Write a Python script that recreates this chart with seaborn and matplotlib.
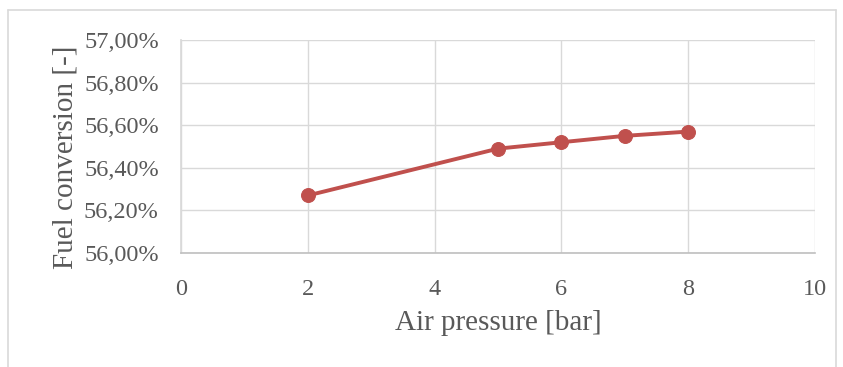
import matplotlib
matplotlib.use("Agg")
import matplotlib.pyplot as plt
import seaborn as sns
import pandas as pd
from matplotlib.ticker import FuncFormatter
from matplotlib.lines import Line2D

air_pressure = [2, 5, 6, 7, 8]
fuel_conversion = [56.27, 56.49, 56.52, 56.55, 56.57]
x_ticks = [0, 2, 4, 6, 8, 10]
y_ticks = [56.0, 56.2, 56.4, 56.6, 56.8, 57.0]

sns.set_theme(style="white")
plt.rcParams['font.family'] = ['Liberation Serif', 'DejaVu Serif']

df = pd.DataFrame({"p": air_pressure, "fc": fuel_conversion})

fig = plt.figure(figsize=(8.43, 3.67), dpi=100)
ax = fig.add_axes([181/843, 1-253/367, (815-181)/843, (253-40)/367])

sns.lineplot(data=df, x="p", y="fc", ax=ax, color="#C0504D", linewidth=2.8,
             marker="o", markersize=10, markeredgecolor="#C0504D", zorder=3)

ax.set_xlim(0, 10)
ax.set_ylim(56.0, 57.0)
ax.set_xticks(x_ticks)
ax.set_yticks(y_ticks)
ax.yaxis.set_major_formatter(FuncFormatter(lambda v, _: f"{v:.2f}".replace(".", ",") + "%"))
ax.grid(True, color="#D9D9D9", linewidth=1.0)
ax.set_axisbelow(True)
for s in ["top", "right"]:
    ax.spines[s].set_visible(False)
ax.spines["left"].set_color("#D9D9D9")
ax.spines["bottom"].set_color("#BFBFBF")
ax.spines["bottom"].set_linewidth(1.2)
ax.tick_params(axis="both", length=0, labelsize=17.5, colors="#595959")
ax.tick_params(axis="y", pad=16)
ax.tick_params(axis="x", pad=19)
ax.set_xlabel("Air pressure [bar]", fontsize=21, color="#595959", labelpad=7)
ax.set_ylabel("Fuel conversion [-]", fontsize=21, color="#595959", labelpad=4)
ax.yaxis.label.set_y(0.45)

# outer chart border (left, top, right)
bc = "#D9D9D9"
fig.add_artist(Line2D([8/843, 8/843], [0, 1-10/367], color=bc, lw=1.2, transform=fig.transFigure))
fig.add_artist(Line2D([8/843, 836/843], [1-10/367, 1-10/367], color=bc, lw=1.2, transform=fig.transFigure))
fig.add_artist(Line2D([836/843, 836/843], [0, 1-10/367], color=bc, lw=1.2, transform=fig.transFigure))

fig.savefig("out.png", dpi=100)
